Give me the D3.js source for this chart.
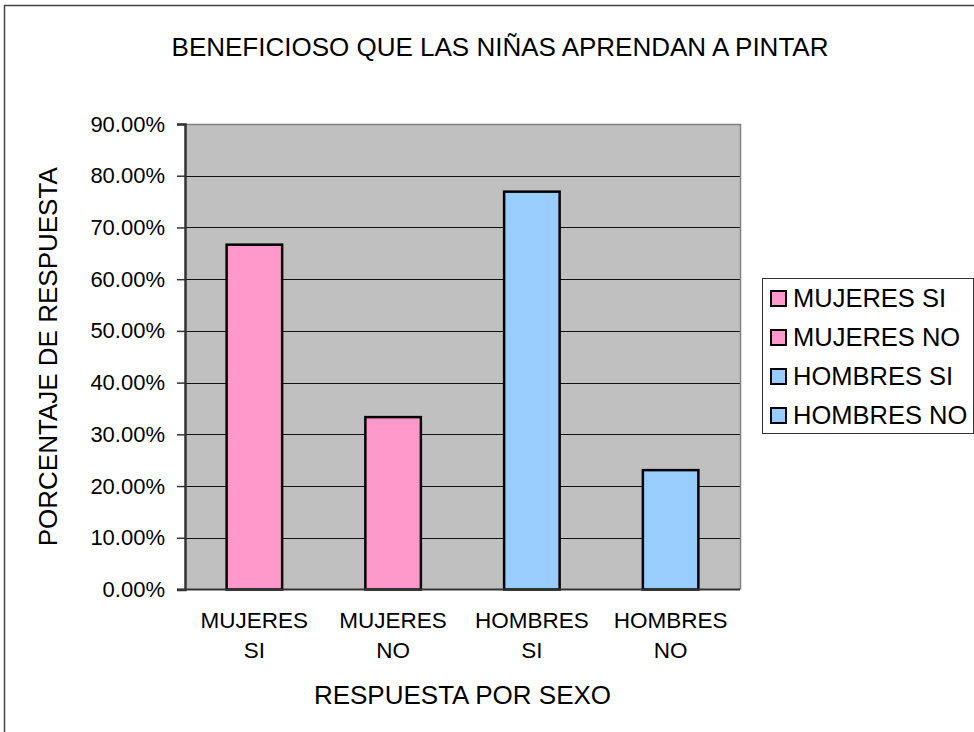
<!DOCTYPE html>
<html>
<head>
<meta charset="utf-8">
<script src="https://cdn.jsdelivr.net/npm/d3@7"></script>
<style>
  body { margin: 0; background: #fff; }
  svg { display: block; font-family: Arial, "Liberation Sans", sans-serif; }
</style>
</head>
<body>
<svg id="chart" width="974" height="732"></svg>
<script>
// data
var categories = ["MUJERES SI", "MUJERES NO", "HOMBRES SI", "HOMBRES NO"];
var labelLines = [["MUJERES", "SI"], ["MUJERES", "NO"], ["HOMBRES", "SI"], ["HOMBRES", "NO"]];
var values = [0.6667, 0.3333, 0.7692, 0.2308];
var colors = ["#FF99CC", "#FF99CC", "#99CCFF", "#99CCFF"];
var yTicks = [0, 0.1, 0.2, 0.3, 0.4, 0.5, 0.6, 0.7, 0.8, 0.9];

var svg = d3.select("#chart");

// plot area
var pLeft = 185, pRight = 740, pTop = 124, pBottom = 589.5;

// outer chart frame
svg.append("rect")
    .attr("x", 4.5).attr("y", 5.5)
    .attr("width", 1000).attr("height", 800)
    .attr("fill", "white")
    .attr("stroke", "#444")
    .attr("stroke-width", 1.5);

var x = d3.scaleBand()
    .domain(categories)
    .range([pLeft, pRight])
    .paddingInner(0.6)
    .paddingOuter(0.3);

var y = d3.scaleLinear()
    .domain([0, 0.9])
    .range([pBottom, pTop]);

// plot background
svg.append("rect")
    .attr("x", pLeft).attr("y", pTop)
    .attr("width", pRight - pLeft).attr("height", pBottom - pTop)
    .attr("fill", "#C0C0C0");

// gridlines
svg.append("g").selectAll("line")
    .data(yTicks.slice(1, -1))
    .join("line")
    .attr("x1", pLeft).attr("x2", pRight)
    .attr("y1", function (d) { return Math.round(y(d)) + 0.5; })
    .attr("y2", function (d) { return Math.round(y(d)) + 0.5; })
    .attr("stroke", "#111")
    .attr("stroke-width", 1);

// plot border top/right
svg.append("path")
    .attr("d", "M" + pLeft + "," + (pTop + 0.5) + "H" + (pRight + 0.5) + "V" + pBottom)
    .attr("fill", "none")
    .attr("stroke", "#808080")
    .attr("stroke-width", 1.5);

// bars
svg.append("g").selectAll("rect")
    .data(values)
    .join("rect")
    .attr("x", function (d, i) { return x(categories[i]); })
    .attr("y", function (d) { return y(d); })
    .attr("width", x.bandwidth())
    .attr("height", function (d) { return pBottom - y(d); })
    .attr("fill", function (d, i) { return colors[i]; })
    .attr("stroke", "black")
    .attr("stroke-width", 2.5);

// y axis
var yAxis = d3.axisLeft(y)
    .tickValues(yTicks)
    .tickSize(8)
    .tickPadding(12)
    .tickFormat(function (d) { return (d * 100).toFixed(2) + "%"; });

var gy = svg.append("g")
    .attr("transform", "translate(" + pLeft + ",0)")
    .call(yAxis);
gy.select(".domain").attr("stroke", "#333").attr("stroke-width", 2.5);
gy.selectAll(".tick line").attr("stroke", "#333").attr("stroke-width", 1.5);
gy.selectAll(".tick text")
    .attr("font-size", 22)
    .attr("font-family", "Arial, 'Liberation Sans', sans-serif")
    .attr("fill", "black");

// x axis line
svg.append("line")
    .attr("x1", pLeft - 8).attr("x2", pRight)
    .attr("y1", pBottom).attr("y2", pBottom)
    .attr("stroke", "#333")
    .attr("stroke-width", 2);

// x labels
var xl = svg.append("g").selectAll("text")
    .data(categories)
    .join("text")
    .attr("text-anchor", "middle")
    .attr("font-size", 22.5)
    .attr("fill", "black");
xl.each(function (d, i) {
    var t = d3.select(this);
    var cx = x(d) + x.bandwidth() / 2;
    labelLines[i].forEach(function (s, j) {
        t.append("tspan").attr("x", cx).attr("y", 628 + j * 30).text(s);
    });
});

// title
svg.append("text")
    .attr("x", 500).attr("y", 56)
    .attr("text-anchor", "middle")
    .attr("font-size", 26)
    .text("BENEFICIOSO QUE LAS NIÑAS APRENDAN A PINTAR");

// axis titles
svg.append("text")
    .attr("x", (pLeft + pRight) / 2).attr("y", 704)
    .attr("text-anchor", "middle")
    .attr("font-size", 26)
    .text("RESPUESTA POR SEXO");

svg.append("text")
    .attr("transform", "translate(57," + ((pTop + pBottom) / 2) + ") rotate(-90)")
    .attr("text-anchor", "middle")
    .attr("font-size", 26)
    .text("PORCENTAJE DE RESPUESTA");

// legend
var legend = svg.append("g").attr("transform", "translate(762,278)");
legend.append("rect")
    .attr("x", 0.5).attr("y", 0.5)
    .attr("width", 211).attr("height", 155)
    .attr("fill", "white")
    .attr("stroke", "#333")
    .attr("stroke-width", 1);
var li = legend.selectAll("g.item")
    .data(categories)
    .join("g")
    .attr("class", "item")
    .attr("transform", function (d, i) { return "translate(0," + (20 + i * 39) + ")"; });
li.append("rect")
    .attr("x", 9).attr("y", -7)
    .attr("width", 15).attr("height", 15)
    .attr("fill", function (d, i) { return colors[i]; })
    .attr("stroke", "black")
    .attr("stroke-width", 2);
li.append("text")
    .attr("x", 31).attr("y", 9)
    .attr("font-size", 25.5)
    .text(function (d) { return d; });
</script>
</body>
</html>
